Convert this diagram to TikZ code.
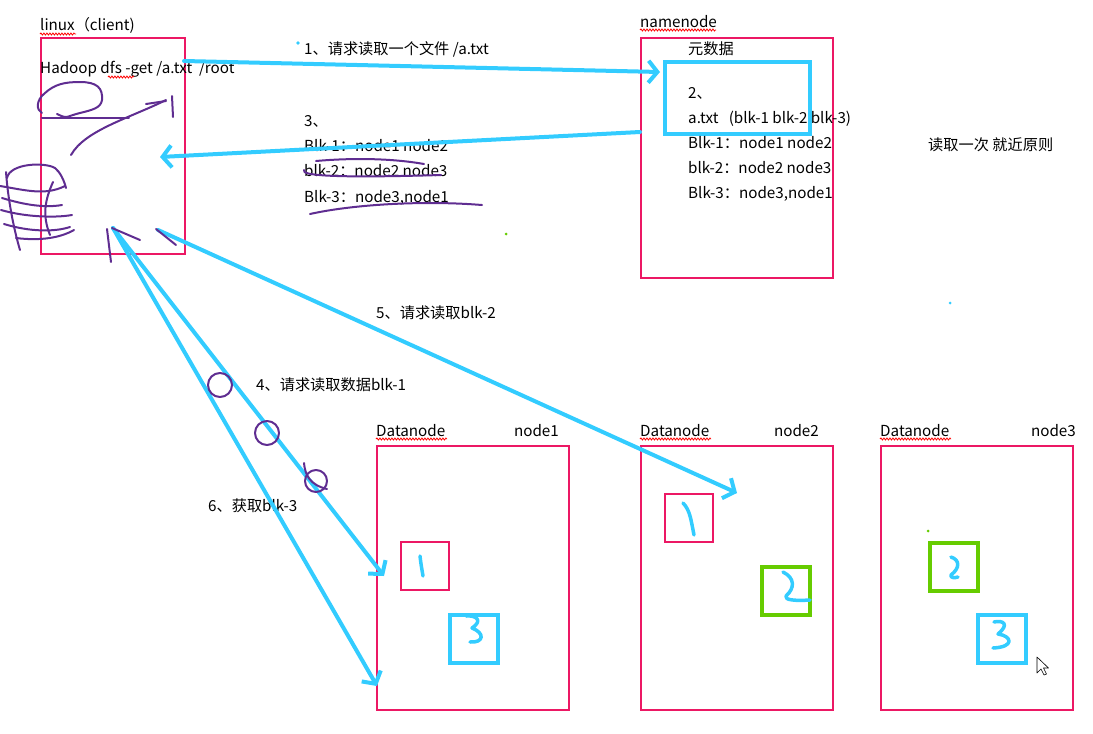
\documentclass[tikz,border=0pt]{standalone}
\usepackage{fontspec}
\setmainfont{Noto Sans CJK SC}
\usetikzlibrary{arrows.meta,decorations.pathmorphing}
\definecolor{cy}{RGB}{51,204,255}
\definecolor{pk}{RGB}{236,24,100}
\definecolor{gr}{RGB}{102,204,0}
\definecolor{pu}{RGB}{95,45,145}
\tikzset{
  txt/.style={inner sep=0pt, anchor=base west, font=\fontsize{15.2}{17}\selectfont},
  bigbox/.style={draw=pk, line width=2pt, anchor=north west, inner sep=0pt},
  smallred/.style={draw=pk, line width=2pt, anchor=north west, inner sep=0pt, minimum width=48pt, minimum height=48pt},
  smallcy/.style={draw=cy, line width=4pt, anchor=north west, inner sep=0pt, minimum width=48pt, minimum height=48pt},
  smallgr/.style={draw=gr, line width=4pt, anchor=north west, inner sep=0pt, minimum width=48pt, minimum height=48pt},
  carrow/.style={draw=cy, line width=4pt, line cap=round, -{Straight Barb[length=9pt,width=22pt]}},
  stroke/.style={draw=cy, line width=3.5pt, line cap=round, line join=round},
  scrib/.style={draw=pu, line width=2pt, line cap=round, line join=round},
  spell/.style={draw=red, line width=0.8pt, decorate, decoration={snake, amplitude=1pt, segment length=3pt}},
}
\begin{document}
\begin{tikzpicture}[x=1pt,y=-1pt]
\useasboundingbox (0,0) rectangle (1093,734);

% main boxes
\node[bigbox, minimum width=144pt, minimum height=216pt] (client) at (40,37) {};
\node[bigbox, minimum width=192pt, minimum height=240pt] (namenode) at (640,37) {};
\node[bigbox, minimum width=192pt, minimum height=264pt] (dn1) at (376,445) {};
\node[bigbox, minimum width=192pt, minimum height=264pt] (dn2) at (640,445) {};
\node[bigbox, minimum width=192pt, minimum height=264pt] (dn3) at (880,445) {};
\node[draw=cy, line width=4pt, anchor=north west, inner sep=0pt, minimum width=145pt, minimum height=72pt] (meta) at (663,60) {};

% labels
\node[txt] (lclient) at (40,30) {linux（client)};
\node[txt] (cmd) at (40,73) {Hadoop dfs -get /a.txt\ \ /root};
\node[txt] (lnn) at (640,27) {namenode};
\node[txt] (lmeta) at (688,54) {元数据};
\node[txt] (n2) at (688,98) {2、};
\node[txt] (n2a) at (688,123) {a.txt\ \ \ (blk-1 blk-2 blk-3)};
\node[txt] (n2b) at (688,148) {Blk-1：node1 node2};
\node[txt] (n2c) at (688,173) {blk-2：node2 node3};
\node[txt] (n2d) at (688,198) {Blk-3：node3,node1};
\node[txt] (rule) at (928,150) {读取一次 就近原则};

\node[txt] (s1) at (304,54) {1、请求读取一个文件 /a.txt};
\node[txt] (s3) at (304,126) {3、};
\node[txt] (s3a) at (304,151) {Blk-1：node1 node2};
\node[txt] (s3b) at (304,176) {blk-2：node2 node3};
\node[txt] (s3c) at (304,202) {Blk-3：node3,node1};
\node[txt] (s5) at (376,318) {5、请求读取blk-2};
\node[txt] (s4) at (256,390) {4、请求读取数据blk-1};
\node[txt] (s6) at (208,511) {6、获取blk-3};

\node[txt] (d1l) at (376,436) {Datanode};
\node[txt, anchor=base east] (d1r) at (559,436) {node1};
\node[txt] (d2l) at (640,436) {Datanode};
\node[txt, anchor=base east] (d2r) at (819,436) {node2};
\node[txt] (d3l) at (880,436) {Datanode};
\node[txt, anchor=base east] (d3r) at (1076,436) {node3};

% spell-check underlines
\draw[spell] (40,34) -- (76,34);
\draw[spell] (108,77) -- (134,77);
\draw[spell] (640,30) -- (716,30);
\draw[spell] (376,439) -- (447,439);
\draw[spell] (640,439) -- (711,439);
\draw[spell] (880,439) -- (951,439);

% small block boxes
\node[smallred] (b11) at (400,541) {};
\node[smallcy] (b13) at (448,613) {};
\node[smallred] (b21) at (664,493) {};
\node[smallgr] (b22) at (760,565) {};
\node[smallgr] (b32) at (928,541) {};
\node[smallcy] (b33) at (976,613) {};

% handwritten digits
\draw[stroke] (420,556) .. controls (421,565) and (422,570) .. (423,576);
\draw[stroke] (466,616) .. controls (475,615) and (484,620) .. (472,628) .. controls (485,633) and (484,643) .. (470,642);
\draw[stroke] (683,503) .. controls (690,510) and (691,520) .. (694,535);
\draw[stroke] (783,572) .. controls (795,578) and (795,588) .. (786,596) .. controls (784,600) and (795,601) .. (810,600);
\draw[stroke] (951,557) .. controls (960,560) and (960,568) .. (951,575) .. controls (950,578) and (955,578) .. (958,577);
\draw[stroke] (994,622) .. controls (1003,620) and (1010,624) .. (998,634) .. controls (1012,636) and (1015,647) .. (993,648);

% arrows
\coordinate (c1) at (184,61);
\coordinate (m1) at (660,72);
\coordinate (m3) at (640,132);
\coordinate (c3) at (160,157);
\coordinate (c5) at (158,230);
\coordinate (d5) at (737,493);
\coordinate (c4) at (113,228);
\coordinate (d4) at (384,576);
\coordinate (d6) at (377,686);
\draw[carrow] (c1) -- (m1);
\draw[carrow] (m3) -- (c3);
\draw[carrow] (c5) -- (d5);
\draw[carrow] (c4) -- (d4);
\draw[carrow] (c4) -- (d6);

% purple scribbles
\draw[scrib] (42,113) .. controls (36,110) and (36,100) .. (45,93) .. controls (55,84) and (65,82) .. (80,82) .. controls (97,82) and (103,88) .. (102,100) .. controls (101,108) and (92,110) .. (80,113) .. controls (72,115) and (68,117) .. (66,117) .. controls (62,117) and (60,115) .. (57,114);
\draw[scrib] (42,118) -- (129,118);
\draw[scrib] (71,155) .. controls (85,130) and (130,118) .. (166,100);
\draw[scrib] (146,104) -- (166,101);
\draw[scrib] (172,96) -- (173,117);
\draw[scrib] (7,178) .. controls (10,163) and (45,162) .. (55,168) .. controls (60,172) and (64,180) .. (66,188);
\draw[scrib] (0,186) .. controls (25,190) and (45,196) .. (65,186);
\draw[scrib] (2,198) .. controls (25,205) and (45,208) .. (62,205);
\draw[scrib] (1,210) .. controls (25,217) and (55,218) .. (72,215);
\draw[scrib] (4,224) .. controls (30,232) and (55,232) .. (70,227);
\draw[scrib] (16,238) .. controls (40,241) and (60,238) .. (74,230);
\draw[scrib] (6,172) .. controls (8,200) and (14,230) .. (20,250);
\draw[scrib] (53,182) .. controls (45,200) and (42,215) .. (50,235);
\draw[scrib] (107,229) -- (111,262);
\draw[scrib] (112,228) -- (140,240);
\draw[scrib] (156,229) -- (176,245);
\draw[scrib] (316,161) .. controls (350,158) and (390,158) .. (424,164);
\draw[scrib] (304,170) .. controls (300,176) and (340,178) .. (441,175);
\draw[scrib] (310,214) .. controls (350,205) and (420,200) .. (482,205);
\draw[scrib] (220,385) circle (12);
\draw[scrib] (267,433) circle (12);
\draw[scrib] (316,481) circle (11);
\draw[scrib] (304,463) .. controls (305,475) and (310,485) .. (327,489);

% dots
\fill[cy] (298,43) circle (1.8);
\fill[gr] (506,234) circle (1.5);
\fill[cy] (950,303) circle (1.5);
\fill[gr] (928,531) circle (1.5);

% mouse cursor
\draw[black, line width=0.6pt, fill=white, line join=round] (1037,657) -- (1037,673) -- (1041,669) -- (1044,675) -- (1046.5,674) -- (1043.5,668) -- (1048.5,668) -- cycle;
\end{tikzpicture}
\end{document}
